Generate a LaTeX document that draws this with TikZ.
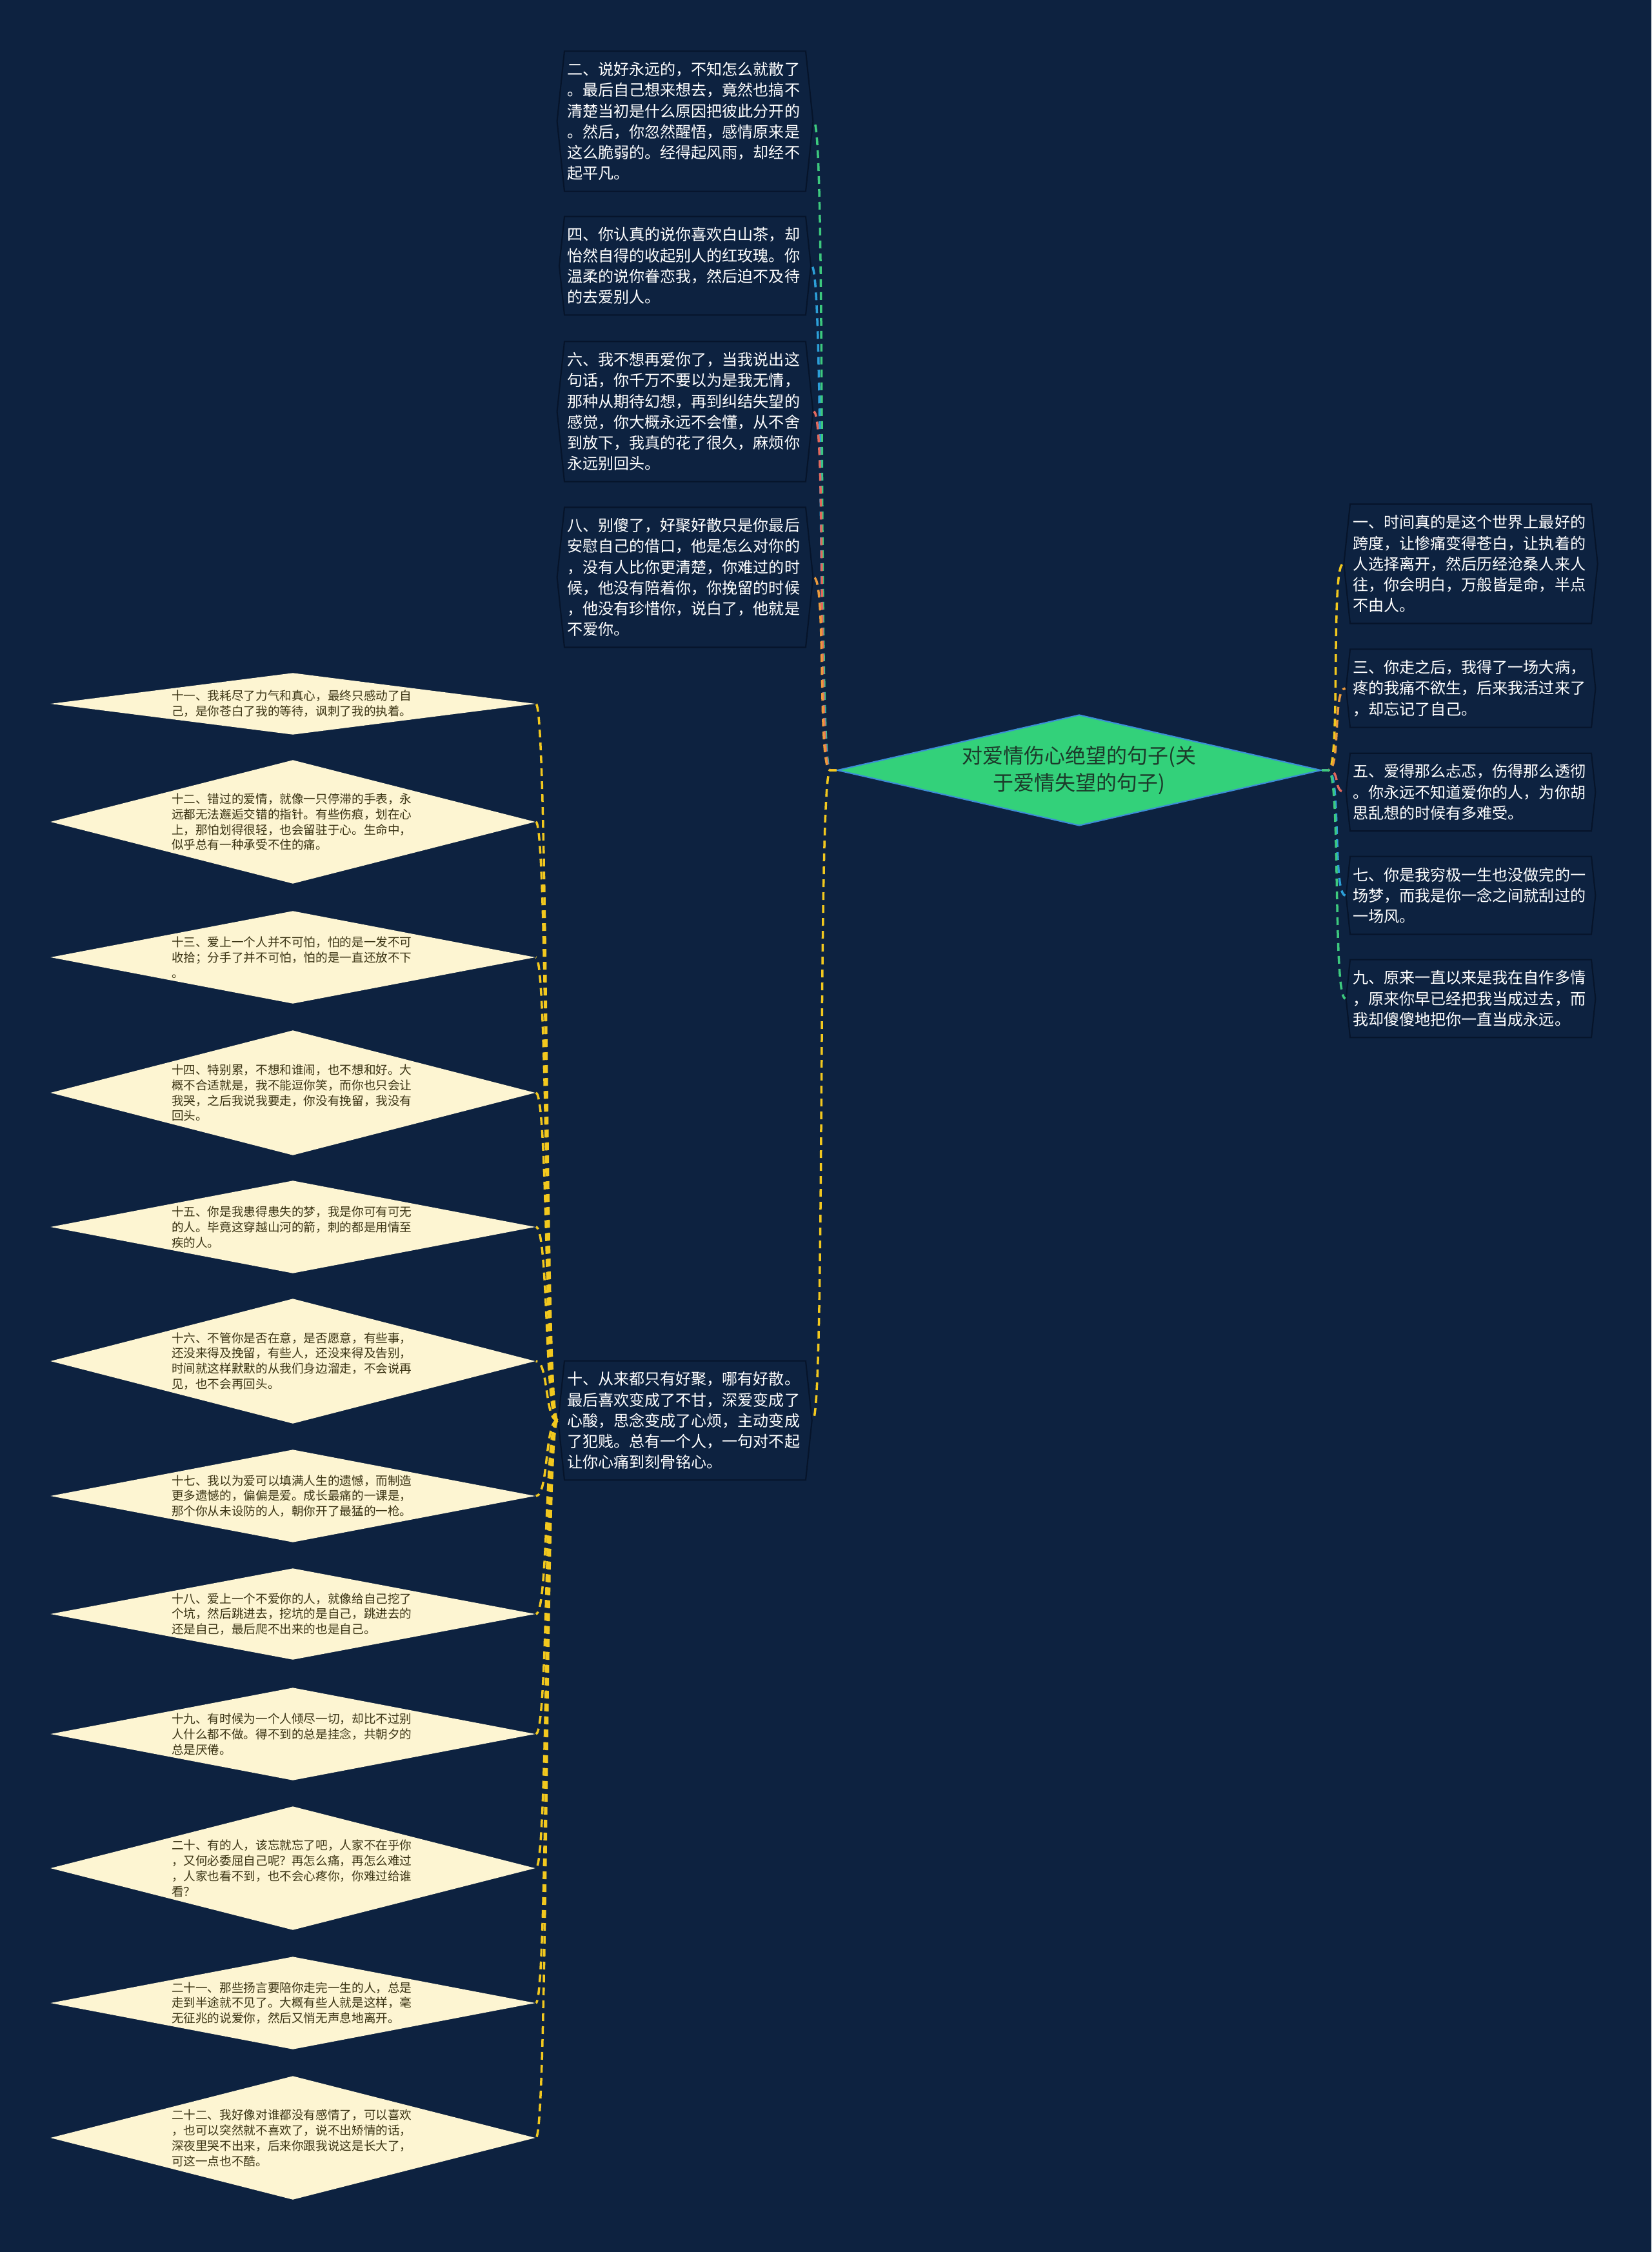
\documentclass[tikz,border=0pt]{standalone}
\usepackage{fontspec}
\setmainfont{Noto Sans CJK SC}
\usetikzlibrary{shapes.geometric,shapes.symbols}

\definecolor{bgblue}{HTML}{0D2240}
\definecolor{rootgreen}{HTML}{33D17A}
\definecolor{rootedge}{HTML}{3C8ED6}
\definecolor{roottext}{HTML}{1C3A2A}
\definecolor{cream}{HTML}{FDF5D2}
\definecolor{creamtext}{HTML}{3B3414}
\definecolor{boxedge}{HTML}{06142A}
\definecolor{lnyellow}{HTML}{F2C81E}
\definecolor{lnorange}{HTML}{EC9A3C}
\definecolor{lnred}{HTML}{E2685C}
\definecolor{lnblue}{HTML}{2C9FD8}
\definecolor{lngreen}{HTML}{3DC97E}

\tikzset{
  rootnode/.style={diamond, fill=rootgreen, draw=rootedge, line width=0.6pt,
    inner sep=0pt, minimum width=7.5cm, minimum height=1.72cm},
  roottxt/.style={text=roottext, align=center, inner sep=0pt,
    font=\fontsize{9.1pt}{11.9pt}\selectfont},
  leafbox/.style={signal, signal to=west and east, signal pointer angle=168,
    fill=bgblue, draw=boxedge, line width=0.6pt, text=white, text width=3.66cm,
    align=left, inner xsep=0.04cm, inner ysep=0.17cm,
    font=\fontsize{6.85pt}{9.15pt}\selectfont},
  leafdia/.style={diamond, fill=cream, inner sep=0pt, minimum width=7.52cm},
  leaftxt/.style={text=creamtext, text width=3.76cm, align=left, inner sep=0pt,
    font=\fontsize{5.3pt}{6.8pt}\selectfont},
  conn/.style={line width=0.035cm, dash pattern=on 0.12cm off 0.08cm},
}

\begin{document}
\begin{tikzpicture}[y=-1cm]
    \fill[bgblue] (0,0) rectangle (25.6,34.91);
    \useasboundingbox (0,0) rectangle (25.6,34.91);

    \node[rootnode] (root) at (16.73,11.94) {};
    \node[roottxt] (rootlbl) at (root) {对爱情伤心绝望的句子(关\\于爱情失望的句子)};

    \node[leafbox] (s2) at (10.62,1.88) {二、说好永远的，不知怎么就散了\\。最后自己想来想去，竟然也搞不\\清楚当初是什么原因把彼此分开的\\。然后，你忽然醒悟，感情原来是\\这么脆弱的。经得起风雨，却经不\\起平凡。};
    \node[leafbox] (s4) at (10.62,4.12) {四、你认真的说你喜欢白山茶，却\\怡然自得的收起别人的红玫瑰。你\\温柔的说你眷恋我，然后迫不及待\\的去爱别人。};
    \node[leafbox] (s6) at (10.62,6.38) {六、我不想再爱你了，当我说出这\\句话，你千万不要以为是我无情，\\那种从期待幻想，再到纠结失望的\\感觉，你大概永远不会懂，从不舍\\到放下，我真的花了很久，麻烦你\\永远别回头。};
    \node[leafbox] (s8) at (10.62,8.95) {八、别傻了，好聚好散只是你最后\\安慰自己的借口，他是怎么对你的\\，没有人比你更清楚，你难过的时\\候，他没有陪着你，你挽留的时候\\，他没有珍惜你，说白了，他就是\\不爱你。};
    \node[leafbox] (s10) at (10.62,22.02) {十、从来都只有好聚，哪有好散。\\最后喜欢变成了不甘，深爱变成了\\心酸，思念变成了心烦，主动变成\\了犯贱。总有一个人，一句对不起\\让你心痛到刻骨铭心。};

    \node[leafbox] (s1) at (22.80,8.74) {一、时间真的是这个世界上最好的\\跨度，让惨痛变得苍白，让执着的\\人选择离开，然后历经沧桑人来人\\往，你会明白，万般皆是命，半点\\不由人。};
    \node[leafbox] (s3) at (22.80,10.67) {三、你走之后，我得了一场大病，\\疼的我痛不欲生，后来我活过来了\\，却忘记了自己。};
    \node[leafbox] (s5) at (22.80,12.28) {五、爱得那么忐忑，伤得那么透彻\\。你永远不知道爱你的人，为你胡\\思乱想的时候有多难受。};
    \node[leafbox] (s7) at (22.80,13.88) {七、你是我穷极一生也没做完的一\\场梦，而我是你一念之间就刮过的\\一场风。};
    \node[leafbox] (s9) at (22.80,15.48) {九、原来一直以来是我在自作多情\\，原来你早已经把我当成过去，而\\我却傻傻地把你一直当成永远。};

    \node[leafdia, minimum height=0.96cm] (s11) at (4.54,10.91) {};
    \node[leaftxt] (t11) at (s11) {十一、我耗尽了力气和真心，最终只感动了自\\己，是你苍白了我的等待，讽刺了我的执着。};
    \node[leafdia, minimum height=1.92cm] (s12) at (4.54,12.74) {};
    \node[leaftxt] (t12) at (s12) {十二、错过的爱情，就像一只停滞的手表，永\\远都无法邂逅交错的指针。有些伤痕，划在心\\上，那怕划得很轻，也会留驻于心。生命中，\\似乎总有一种承受不住的痛。};
    \node[leafdia, minimum height=1.44cm] (s13) at (4.54,14.84) {};
    \node[leaftxt] (t13) at (s13) {十三、爱上一个人并不可怕，怕的是一发不可\\收拾；分手了并不可怕，怕的是一直还放不下\\。};
    \node[leafdia, minimum height=1.94cm] (s14) at (4.54,16.94) {};
    \node[leaftxt] (t14) at (s14) {十四、特别累，不想和谁闹，也不想和好。大\\概不合适就是，我不能逗你笑，而你也只会让\\我哭，之后我说我要走，你没有挽留，我没有\\回头。};
    \node[leafdia, minimum height=1.44cm] (s15) at (4.54,19.02) {};
    \node[leaftxt] (t15) at (s15) {十五、你是我患得患失的梦，我是你可有可无\\的人。毕竟这穿越山河的箭，刺的都是用情至\\疾的人。};
    \node[leafdia, minimum height=1.94cm] (s16) at (4.54,21.10) {};
    \node[leaftxt] (t16) at (s16) {十六、不管你是否在意，是否愿意，有些事，\\还没来得及挽留，有些人，还没来得及告别，\\时间就这样默默的从我们身边溜走，不会说再\\见，也不会再回头。};
    \node[leafdia, minimum height=1.44cm] (s17) at (4.54,23.19) {};
    \node[leaftxt] (t17) at (s17) {十七、我以为爱可以填满人生的遗憾，而制造\\更多遗憾的，偏偏是爱。成长最痛的一课是，\\那个你从未设防的人，朝你开了最猛的一枪。};
    \node[leafdia, minimum height=1.42cm] (s18) at (4.54,25.02) {};
    \node[leaftxt] (t18) at (s18) {十八、爱上一个不爱你的人，就像给自己挖了\\个坑，然后跳进去，挖坑的是自己，跳进去的\\还是自己，最后爬不出来的也是自己。};
    \node[leafdia, minimum height=1.44cm] (s19) at (4.54,26.88) {};
    \node[leaftxt] (t19) at (s19) {十九、有时候为一个人倾尽一切，却比不过别\\人什么都不做。得不到的总是挂念，共朝夕的\\总是厌倦。};
    \node[leafdia, minimum height=1.92cm] (s20) at (4.54,28.96) {};
    \node[leaftxt] (t20) at (s20) {二十、有的人，该忘就忘了吧，人家不在乎你\\，又何必委屈自己呢？再怎么痛，再怎么难过\\，人家也看不到，也不会心疼你，你难过给谁\\看？};
    \node[leafdia, minimum height=1.44cm] (s21) at (4.54,31.05) {};
    \node[leaftxt] (t21) at (s21) {二十一、那些扬言要陪你走完一生的人，总是\\走到半途就不见了。大概有些人就是这样，毫\\无征兆的说爱你，然后又悄无声息地离开。};
    \node[leafdia, minimum height=1.92cm] (s22) at (4.54,33.14) {};
    \node[leaftxt] (t22) at (s22) {二十二、我好像对谁都没有感情了，可以喜欢\\，也可以突然就不喜欢了，说不出矫情的话，\\深夜里哭不出来，后来你跟我说这是长大了，\\可这一点也不酷。};

    \foreach \s/\c in {s2/lngreen, s4/lnblue, s6/lnred, s8/lnorange, s10/lnyellow}
        \draw[conn, \c] (root.west) -- ++(-0.1,0) .. controls +(-0.2,0) and +(0.2,0) .. (\s.east);
    \foreach \s/\c in {s1/lnyellow, s3/lnorange, s5/lnred, s7/lnblue, s9/lngreen}
        \draw[conn, \c] (root.east) -- ++(0.1,0) .. controls +(0.2,0) and +(-0.2,0) .. (\s.west);
    \foreach \s in {s11,s12,s13,s14,s15,s16,s17,s18,s19,s20,s21,s22}
        \draw[conn, lnyellow] (s10.west) .. controls +(-0.2,0) and +(0.2,0) .. (\s.east);
\end{tikzpicture}
\end{document}
